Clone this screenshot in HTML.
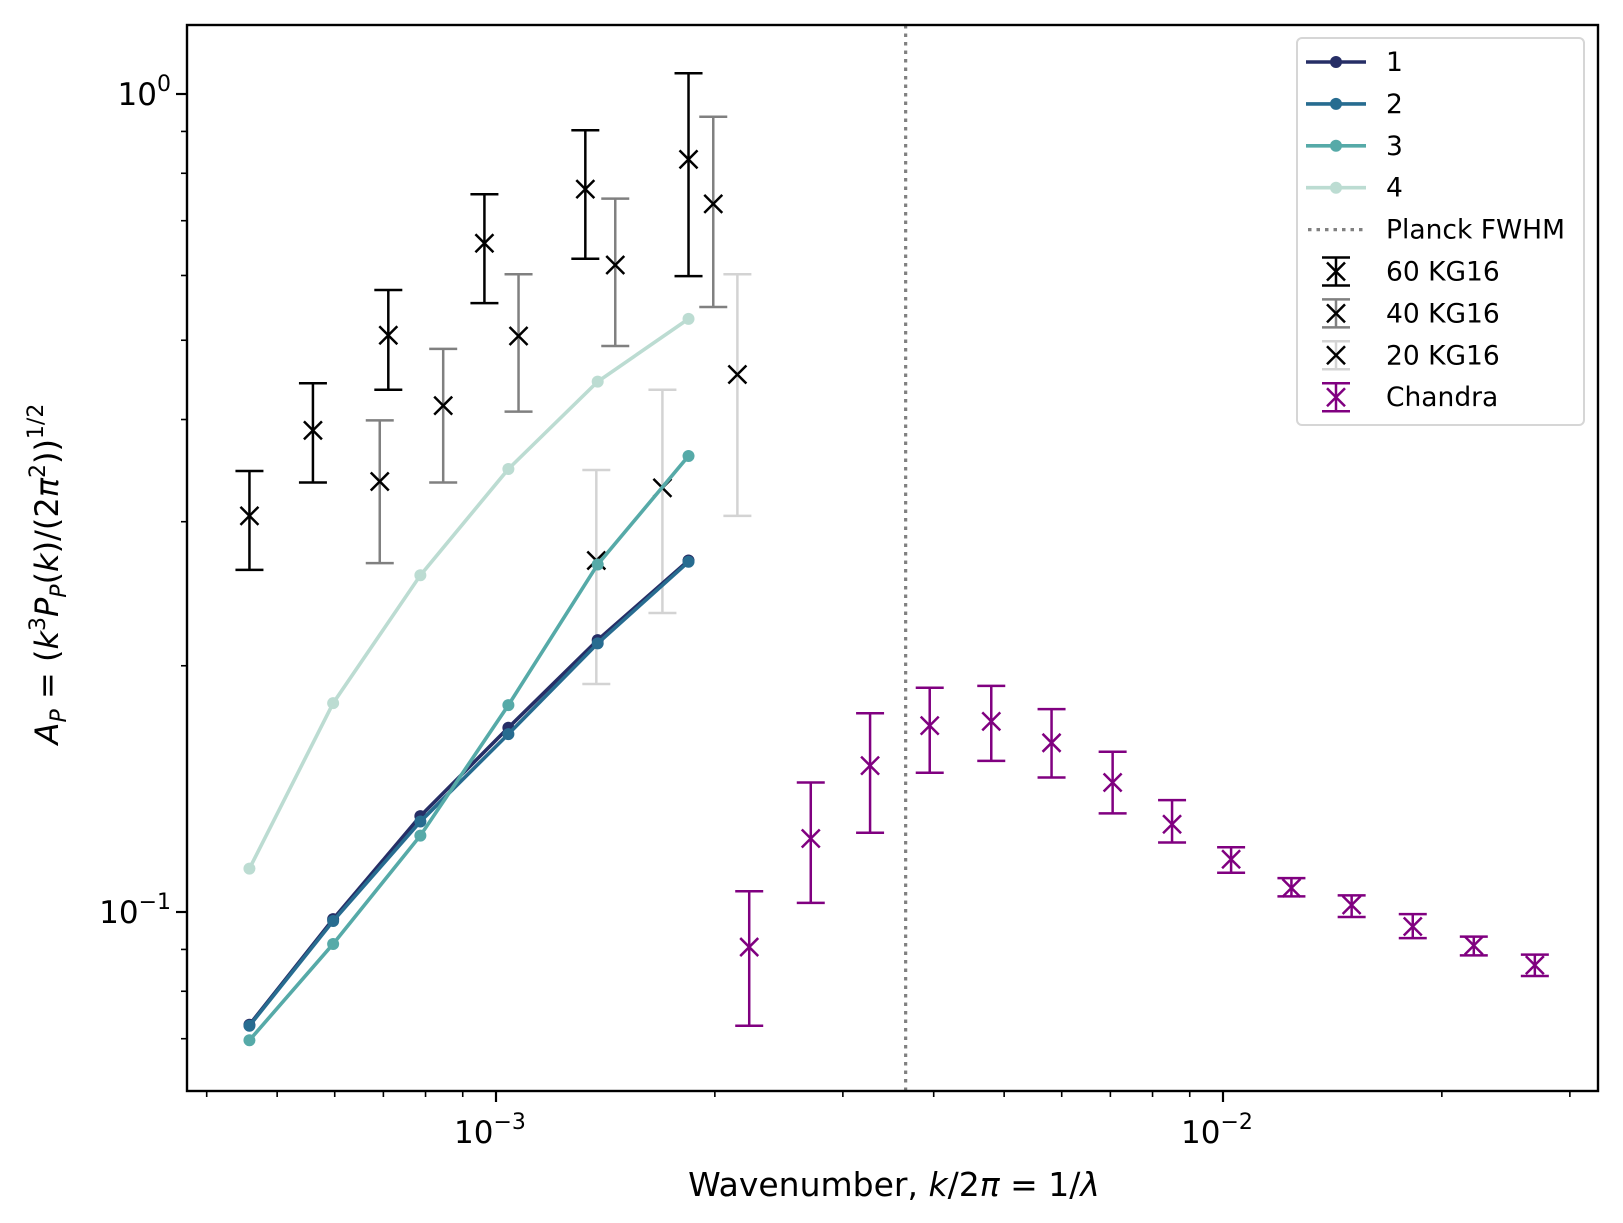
<!DOCTYPE html>
<html><head><meta charset="utf-8"><style>
body{margin:0;background:#fff}
svg{display:block;font-family:"DejaVu Sans","Liberation Sans",sans-serif}
</style></head><body>
<svg id="chart" width="1623" height="1223" viewBox="0 0 1623 1223" xmlns="http://www.w3.org/2000/svg">
<rect width="1623" height="1223" fill="#fff"/>
<g id="plot"></g>
<g id="axes"></g>
<text x="894" y="1196" font-size="33" text-anchor="middle">Wavenumber, <tspan font-style="italic">k</tspan>/2<tspan font-style="italic">π</tspan> = 1/<tspan font-style="italic">λ</tspan></text>
<text transform="translate(58,574) rotate(-90)" font-size="32" text-anchor="middle"><tspan font-style="italic">A</tspan><tspan font-style="italic" font-size="22" dy="8">P</tspan><tspan dy="-8"> = (</tspan><tspan font-style="italic">k</tspan><tspan font-size="22" dy="-13">3</tspan><tspan font-style="italic" dy="13">P</tspan><tspan font-style="italic" font-size="22" dy="8">P</tspan><tspan dy="-8">(</tspan><tspan font-style="italic">k</tspan><tspan>)/(2</tspan><tspan font-style="italic">π</tspan><tspan font-size="22" dy="-13">2</tspan><tspan dy="13">))</tspan><tspan font-size="22" dy="-15">1/2</tspan></text>
<g id="legend"></g>
</svg>
<script>
const kLines = [4.58e-4, 5.97e-4, 7.87e-4, 1.04e-3, 1.38e-3, 1.84e-3];
const s1 = [0.0728, 0.098, 0.131, 0.168, 0.215, 0.269];
const s2 = [0.0726, 0.0975, 0.129, 0.165, 0.213, 0.268];
const s3 = [0.0697, 0.0914, 0.124, 0.179, 0.266, 0.361];
const s4 = [0.113, 0.180, 0.258, 0.348, 0.445, 0.531];
const k60 = [4.58e-4, 5.60e-4, 7.11e-4, 9.64e-4, 1.327e-3, 1.84e-3];
const a60 = [0.305, 0.388, 0.507, 0.657, 0.765, 0.832];
const hi60 = [0.346, 0.443, 0.576, 0.754, 0.903, 1.06];
const lo60 = [0.262, 0.335, 0.435, 0.555, 0.629, 0.599];
const k40 = [6.92e-4, 8.46e-4, 1.074e-3, 1.459e-3, 1.99e-3];
const a40 = [0.336, 0.416, 0.506, 0.618, 0.734];
const hi40 = [0.399, 0.488, 0.602, 0.745, 0.938];
const lo40 = [0.267, 0.335, 0.409, 0.492, 0.549];
const k20 = [1.374e-3, 1.694e-3, 2.148e-3];
const a20 = [0.269, 0.330, 0.454];
const hi20 = [0.347, 0.435, 0.602];
const lo20 = [0.190, 0.232, 0.305];
const kCh = [2.23e-3, 2.71e-3, 3.27e-3, 3.95e-3, 4.80e-3, 5.81e-3, 7.05e-3, 8.51e-3, 1.026e-2, 1.242e-2, 1.503e-2, 1.824e-2, 2.213e-2, 2.685e-2];
const aCh = [0.0906, 0.123, 0.151, 0.169, 0.171, 0.161, 0.144, 0.128, 0.116, 0.107, 0.102, 0.0960, 0.0910, 0.0861];
const hiCh = [0.106, 0.144, 0.175, 0.188, 0.189, 0.177, 0.157, 0.137, 0.120, 0.110, 0.1048, 0.0994, 0.0933, 0.0887];
const loCh = [0.0726, 0.1026, 0.125, 0.148, 0.153, 0.146, 0.132, 0.1216, 0.1117, 0.1045, 0.0986, 0.0929, 0.0885, 0.0835];
const planckK = [3.66e-3];
const xTickVals = [1e-3, 1e-2];
const xTickLabels = ["10", "10"];
const xTickExp = ["−3", "−2"];
const yTickVals = [1, 0.1];
const yTickExp = ["0", "−1"];

const NS = "http://www.w3.org/2000/svg";
const L = 187, R = 1598, T = 25, B = 1091;
const X0 = 496, XD = 727, Y0 = 94, YD = 818;
function xs(v){ return X0 + (Math.log10(v) + 3) * XD; }
function ys(v){ return Y0 - Math.log10(v) * YD; }
function mk(tag, attrs, parent){ const e = document.createElementNS(NS, tag); for (const k in attrs) e.setAttribute(k, attrs[k]); parent.appendChild(e); return e; }
const plot = document.getElementById('plot');
const axes = document.getElementById('axes');
const leg = document.getElementById('legend');

planckK.forEach(k => {
  const ln = mk('line', {x1: xs(k), x2: xs(k), y1: T, y2: B, stroke: '#808080', 'stroke-width': 3.2, 'stroke-dasharray': '3.5,5'}, plot);
  
  
});

function errSeries(ks, as, his, los, col, name){
  const g = mk('g', {}, plot);
  
  
  ks.forEach((k, i) => {
    const x = xs(k), yh = ys(his[i]), yl = ys(los[i]), y = ys(as[i]);
    mk('line', {x1: x, x2: x, y1: yh, y2: yl, stroke: col, 'stroke-width': 2.5}, g);
    mk('line', {x1: x - 14, x2: x + 14, y1: yh, y2: yh, stroke: col, 'stroke-width': 2.5}, g);
    mk('line', {x1: x - 14, x2: x + 14, y1: yl, y2: yl, stroke: col, 'stroke-width': 2.5}, g);
    const mc = col === '#800080' ? '#800080' : '#000';
    const p = mk('path', {d: `M${x-9},${y-9}L${x+9},${y+9}M${x-9},${y+9}L${x+9},${y-9}`, stroke: mc, 'stroke-width': 2.5}, g);
    
    
  });
}
function lineSeries(ks, vals, col, name){
  const g = mk('g', {}, plot);
  
  
  mk('polyline', {points: ks.map((k, i) => xs(k) + ',' + ys(vals[i])).join(' '), fill: 'none', stroke: col, 'stroke-width': 3.6}, g);
  ks.forEach((k, i) => { mk('circle', {cx: xs(k), cy: ys(vals[i]), r: 6, fill: col}, g); });
}
errSeries(k60, a60, hi60, lo60, '#000', 'kg16-60-series');
errSeries(k40, a40, hi40, lo40, '#808080', 'kg16-40-series');
errSeries(k20, a20, hi20, lo20, '#d3d3d3', 'kg16-20-series');
lineSeries(kLines, s4, '#bcdcd2', 'series-4-line');
lineSeries(kLines, s1, '#262e66', 'series-1-line');
lineSeries(kLines, s2, '#276c90', 'series-2-line');
lineSeries(kLines, s3, '#56aaa8', 'series-3-line');
errSeries(kCh, aCh, hiCh, loCh, '#800080', 'chandra-series');

const fr = mk('rect', {x: L, y: T, width: R - L, height: B - T, fill: 'none', stroke: '#000', 'stroke-width': 2.4}, axes);


for (let e = -4; e <= -2; e++) for (let m = 1; m <= 9; m++) {
  const v = m * Math.pow(10, e), x = xs(v);
  if (x < L || x > R) continue;
  mk('line', {x1: x, x2: x, y1: B, y2: B + (m === 1 ? 11 : 6), stroke: '#000', 'stroke-width': m === 1 ? 2.2 : 1.6}, axes);
}
xTickVals.forEach((v, i) => {
  const t = mk('text', {x: xs(v) - 6, y: B + 52, 'font-size': 31, 'text-anchor': 'middle'}, axes);
  
  
  t.innerHTML = xTickLabels[i] + '<tspan font-size="22" dy="-14">' + xTickExp[i] + '</tspan>';
});
for (let e = -2; e <= 0; e++) for (let m = 1; m <= 9; m++) {
  const v = m * Math.pow(10, e), y = ys(v);
  if (y < T || y > B) continue;
  mk('line', {x1: L - (m === 1 ? 11 : 6), x2: L, y1: y, y2: y, stroke: '#000', 'stroke-width': m === 1 ? 2.2 : 1.6}, axes);
}
yTickVals.forEach((v, i) => {
  const t = mk('text', {x: L - 16, y: ys(v) + 11, 'font-size': 31, 'text-anchor': 'end'}, axes);
  
  
  t.innerHTML = '10<tspan font-size="22" dy="-14">' + yTickExp[i] + '</tspan>';
});

const box = mk('rect', {x: 1297, y: 38, width: 287, height: 387, rx: 5, fill: '#fff', 'fill-opacity': 0.85, stroke: '#d6d6d6', 'stroke-width': 2}, leg);


const entries = [
  ['1', 'line', '#262e66'], ['2', 'line', '#276c90'], ['3', 'line', '#56aaa8'], ['4', 'line', '#bcdcd2'],
  ['Planck FWHM', 'dot', '#808080'], ['60 KG16', 'err', '#000'], ['40 KG16', 'err', '#808080'],
  ['20 KG16', 'err', '#d3d3d3'], ['Chandra', 'err', '#800080']
];
entries.forEach((en, i) => {
  const y = 62 + i * 41.9;
  const g = mk('g', {}, leg);
  
  
  if (en[1] === 'line') {
    mk('line', {x1: 1306, x2: 1366, y1: y, y2: y, stroke: en[2], 'stroke-width': 3.6}, g);
    mk('circle', {cx: 1336, cy: y, r: 6, fill: en[2]}, g);
  } else if (en[1] === 'dot') {
    mk('line', {x1: 1308, x2: 1366, y1: y, y2: y, stroke: en[2], 'stroke-width': 3.2, 'stroke-dasharray': '3.5,5'}, g);
  } else {
    const c = en[2], mc = c === '#800080' ? c : '#000';
    mk('line', {x1: 1336, x2: 1336, y1: y - 14, y2: y + 14, stroke: c, 'stroke-width': 2.5}, g);
    mk('line', {x1: 1322, x2: 1350, y1: y - 14, y2: y - 14, stroke: c, 'stroke-width': 2.5}, g);
    mk('line', {x1: 1322, x2: 1350, y1: y + 14, y2: y + 14, stroke: c, 'stroke-width': 2.5}, g);
    mk('path', {d: `M1327,${y-9}L1345,${y+9}M1327,${y+9}L1345,${y-9}`, stroke: mc, 'stroke-width': 2.5}, g);
  }
  const t = mk('text', {x: 1386, y: y + 9, 'font-size': 26.5}, g);
  t.textContent = en[0];
});
</script>
</body></html>
